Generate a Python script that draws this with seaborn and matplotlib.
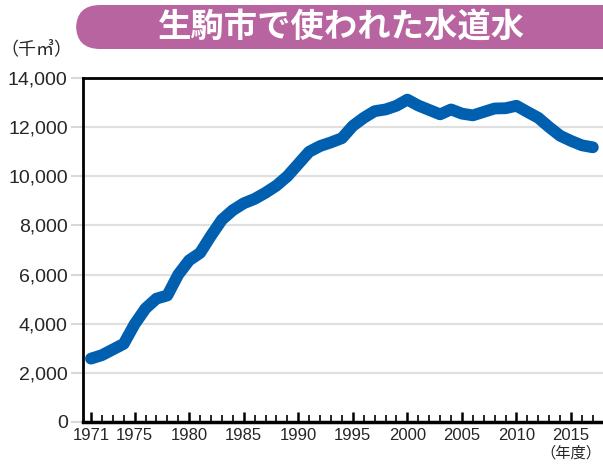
import matplotlib
matplotlib.use("Agg")
import matplotlib.pyplot as plt
from matplotlib.patches import FancyBboxPatch
from matplotlib.ticker import FuncFormatter, MultipleLocator, FixedLocator
import seaborn as sns
import pandas as pd

sns.set_theme(style="white")
plt.rcParams['font.family'] = ['Liberation Sans Narrow', 'Liberation Sans', 'DejaVu Sans']

# water supplied in Ikoma city (thousand m3), fiscal years
years = list(range(1971, 2018))
volume = [2580, 2720, 2950, 3180, 3980, 4620, 5020, 5150, 6000, 6580,
          6880, 7580, 8230, 8620, 8900, 9080, 9330, 9620, 10000, 10500,
          11000, 11230, 11380, 11550, 12050, 12380, 12650, 12720, 12870, 13120,
          12880, 12700, 12520, 12720, 12550, 12480, 12620, 12760, 12770, 12870,
          12620, 12380, 12000, 11650, 11440, 11260, 11180]
label_years = [1971, 1975, 1980, 1985, 1990, 1995, 2000, 2005, 2010, 2015]
y_ticks = [0, 2000, 4000, 6000, 8000, 10000, 12000, 14000]

title = "生駒市で使われた水道水"
unit_label = "（千㎥）"
year_label = "（年度）"

df = pd.DataFrame({"year": years, "volume": volume})

fig = plt.figure(figsize=(6.03, 4.68), dpi=100)
ax = fig.add_axes([83 / 603, 46 / 468, 520 / 603, 344 / 468])

# light horizontal guides at the inner y ticks
for v in y_ticks[1:-1]:
    ax.axhline(v, color="#e0e0e0", lw=1.6, zorder=0)

sns.lineplot(data=df, x="year", y="volume", ax=ax, color="#005fae",
             lw=8.5, solid_capstyle="round", solid_joinstyle="round", zorder=3)

ax.set_xlim(1970.27, 2017.93)
ax.set_ylim(0, 14000)
ax.set_xlabel("")
ax.set_ylabel("")

ax.yaxis.set_major_locator(FixedLocator(y_ticks))
ax.yaxis.set_major_formatter(FuncFormatter(lambda v, p: f"{int(v):,}"))
ax.tick_params(axis="y", which="major", direction="out", length=9, width=1.5,
               color="#d8d8d8", labelsize=14, pad=2, left=True)

ax.xaxis.set_major_locator(FixedLocator(label_years))
ax.xaxis.set_minor_locator(MultipleLocator(1))
ax.tick_params(axis="x", which="major", direction="in", length=7, width=1.8,
               color="black", labelsize=12, pad=4, bottom=True)
ax.tick_params(axis="x", which="minor", direction="in", length=5, width=1.2,
               color="black", bottom=True)

for side in ["left", "bottom", "top"]:
    ax.spines[side].set_color("black")
    ax.spines[side].set_linewidth(2)
ax.spines["bottom"].set_linewidth(2.5)
ax.spines["right"].set_visible(False)

# title banner
box = FancyBboxPatch((76 / 603, 1 - 49 / 468), 560 / 603, 44 / 468,
                     boxstyle="round,pad=0,rounding_size=0.04",
                     transform=fig.transFigure, facecolor="#b864a0",
                     edgecolor="none", mutation_aspect=603 / 468)
fig.patches.append(box)
fig.text(342 / 603, 1 - 27 / 468, title, color="white", fontsize=24,
         fontweight="bold", ha="center", va="center",
         family=["Noto Sans CJK JP", "DejaVu Sans"])

fig.text(36 / 603, 1 - 50 / 468, unit_label, fontsize=13, ha="center",
         va="center", family=["Noto Sans CJK JP", "DejaVu Sans"])
fig.text(571 / 603, 1 - 453 / 468, year_label, fontsize=11, ha="center",
         va="center", family=["Noto Sans CJK JP", "DejaVu Sans"])

fig.savefig("out.png", dpi=100)
